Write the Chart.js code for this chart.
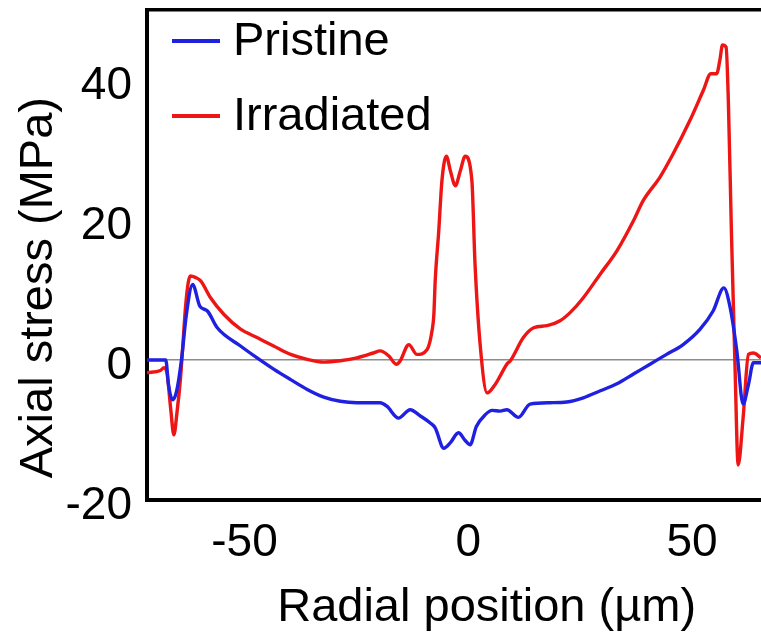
<!DOCTYPE html>
<html><head><meta charset="utf-8">
<script src="https://cdn.jsdelivr.net/npm/chart.js@4"></script>
<style>
html,body{margin:0;padding:0;background:#fff;overflow:hidden}
#wrap{position:relative;width:761px;height:632px}
#legend{position:absolute;left:172px;top:1px;font-family:"Liberation Sans",Arial,sans-serif;font-size:47px;color:#000}
.row{display:flex;align-items:center;height:75px;line-height:75px}
.sw{width:48px;height:4px;margin-right:13px;margin-top:5px}
</style></head><body>
<div id="wrap"><canvas id="c" width="761" height="632"></canvas><div id="legend"></div></div>
<script>
const seriesNames = ['Pristine', 'Irradiated'];
const seriesColors = ['#2020e0', '#ee1515'];
const xTicks = [-50, 0, 50];
const yTicks = [-20, 0, 20, 40];

const pristineX = [-70, -67.0, -65.8, -65.2, -64.3, -63.4, -62.3, -61.2, -59.8, -58.2, -56.5, -54.3, -49.1, -45.4, -41.7, -37.9, -34.2, -30.5, -26.8, -23.1, -17.9, -16.4, -13.8, -11.2, -8.9, -6.7, -5.6, -3.7, -2.2, -0.4, 1.1, 2.2, 3.6, 5.6, 7.1, 8.9, 10.4, 13.0, 15.6, 20.1, 23.8, 27.5, 31.3, 35.0, 38.7, 42.4, 46.1, 49.8, 53.6, 56.5, 58.9, 60.3, 61.8, 63.2, 64.4, 65.5, 67.2];
const pristineY = [0, 0, 0, -3.5, -5.7, -4.5, 0, 6.5, 10.8, 7.7, 7.0, 4.6, 2.0, 0.3, -1.3, -2.8, -4.2, -5.3, -5.9, -6.1, -6.1, -6.6, -8.3, -7.1, -8.0, -9.0, -9.7, -12.6, -11.8, -10.4, -11.5, -12.1, -9.5, -7.8, -7.2, -7.3, -7.1, -8.2, -6.3, -6.1, -6.0, -5.4, -4.4, -3.4, -2.0, -0.6, 0.8, 2.2, 4.4, 7.0, 10.3, 7.5, 1.3, -6.3, -3.5, -0.4, -0.4];

const irradiatedX = [-70, -67.0, -66.2, -65.5, -64.7, -64.0, -63.3, -62.5, -62.0, -61.4, -60.8, -60.3, -59.2, -58.0, -55.8, -52.8, -49.1, -45.4, -41.7, -37.9, -34.2, -30.5, -26.8, -23.1, -19.4, -17.9, -16.0, -14.3, -13.4, -11.9, -11.5, -9.7, -7.4, -6.3, -5.9, -5.6, -4.8, -4.1, -3.1, -2.2, -1.1, 0.0, 1.1, 2.6, 3.3, 4.5, 6.0, 7.8, 8.9, 10.4, 11.2, 14.1, 16.4, 19.4, 22.3, 24.6, 27.5, 31.3, 35.0, 38.7, 40.9, 44.6, 47.6, 51.3, 54.3, 56.0, 57.3, 58.0, 58.6, 59.4, 59.9, 60.6, 61.4, 62.1, 63.2, 64.4, 65.5, 67.2];
const irradiatedY = [-1.8, -1.5, -1.1, -2.0, -7.0, -10.7, -7.5, -2.5, 2.0, 7.5, 11.0, 12.0, 11.8, 11.3, 8.9, 6.5, 4.4, 3.2, 2.0, 0.8, 0.1, -0.3, -0.1, 0.3, 1.0, 1.3, 0.6, -0.6, -0.1, 2.0, 2.2, 0.8, 1.5, 4.2, 6.5, 11.3, 18.5, 25.6, 29.1, 27.0, 24.9, 27.0, 29.1, 25.6, 13.7, 1.8, -4.7, -3.5, -2.3, -0.6, -0.1, 3.2, 4.6, 4.9, 5.6, 6.8, 8.9, 12.3, 15.6, 19.9, 22.8, 26.1, 29.5, 34.2, 38.5, 40.9, 40.9, 42.8, 45.0, 44.7, 37.1, 18.0, -1.1, -15.0, -8.3, 0.8, 1.0, 0.3];

const xs = [pristineX, irradiatedX];
const ys = [pristineY, irradiatedY];

const ff = '"Liberation Sans", Arial, sans-serif';

const datasets = seriesNames.map((name, k) => ({
  label: name,
  data: xs[k].map((x, i) => ({x: x, y: ys[k][i]})),
  showLine: true,
  borderColor: seriesColors[k],
  backgroundColor: seriesColors[k],
  borderWidth: 3.4,
  pointRadius: 0,
  cubicInterpolationMode: 'monotone',
  fill: false
}));

const noPad = s => { s.paddingTop = 0; s.paddingBottom = 0; s.paddingLeft = 0; s.paddingRight = 0; };

const chart = new Chart(document.getElementById('c'), {
  type: 'scatter',
  data: {datasets: datasets},
  options: {
    responsive: false,
    animation: false,
    layout: {padding: {left: 0, right: 0, top: 10, bottom: 0}},
    plugins: {legend: {display: false}, tooltip: {enabled: false}},
    scales: {
      x: {
        type: 'linear', position: 'bottom', min: -70, max: 67.2,
        afterBuildTicks: s => { s.ticks = xTicks.map(v => ({value: v})); },
        afterFit: s => { s.height = 132; noPad(s); },
        grid: {display: false, drawTicks: false},
        border: {display: true, color: '#000', width: 4},
        ticks: {font: {family: ff, size: 46}, color: '#000', padding: 16, labelOffset: 8, maxRotation: 0, autoSkip: false, callback: v => String(v)},
        title: {display: true, text: '     Radial position (µm)', font: {family: ff, size: 47, lineHeight: 1}, color: '#000', padding: {top: 0, bottom: 0}}
      },
      xTop: {
        type: 'linear', position: 'top', min: -70, max: 67.2,
        grid: {display: false, drawTicks: false},
        ticks: {display: false},
        border: {display: true, color: '#000', width: 3.5},
        afterFit: s => { s.height = 0; noPad(s); }
      },
      y: {
        min: -20, max: 50,
        afterBuildTicks: s => { s.ticks = yTicks.map(v => ({value: v})); },
        afterFit: s => { s.width = 147; noPad(s); },
        grid: {drawTicks: false, lineWidth: 1.5, color: c => (c.tick && c.tick.value === 0) ? '#8c8c8c' : 'rgba(0,0,0,0)'},
        border: {display: true, color: '#000', width: 4},
        ticks: {font: {family: ff, size: 46}, color: '#000', padding: 15, labelOffset: 6, callback: v => String(v)},
        title: {display: true, text: 'Axial stress (MPa)     ', font: {family: ff, size: 47, lineHeight: 1}, color: '#000', padding: {top: 16, bottom: 0}}
      }
    }
  }
});

const legend = document.getElementById('legend');
chart.data.datasets.forEach(ds => {
  const row = document.createElement('div');
  row.className = 'row';
  const sw = document.createElement('span');
  sw.className = 'sw';
  sw.style.background = ds.borderColor;
  const t = document.createElement('span');
  t.textContent = ds.label;
  row.appendChild(sw);
  row.appendChild(t);
  legend.appendChild(row);
});
</script>
</body></html>
